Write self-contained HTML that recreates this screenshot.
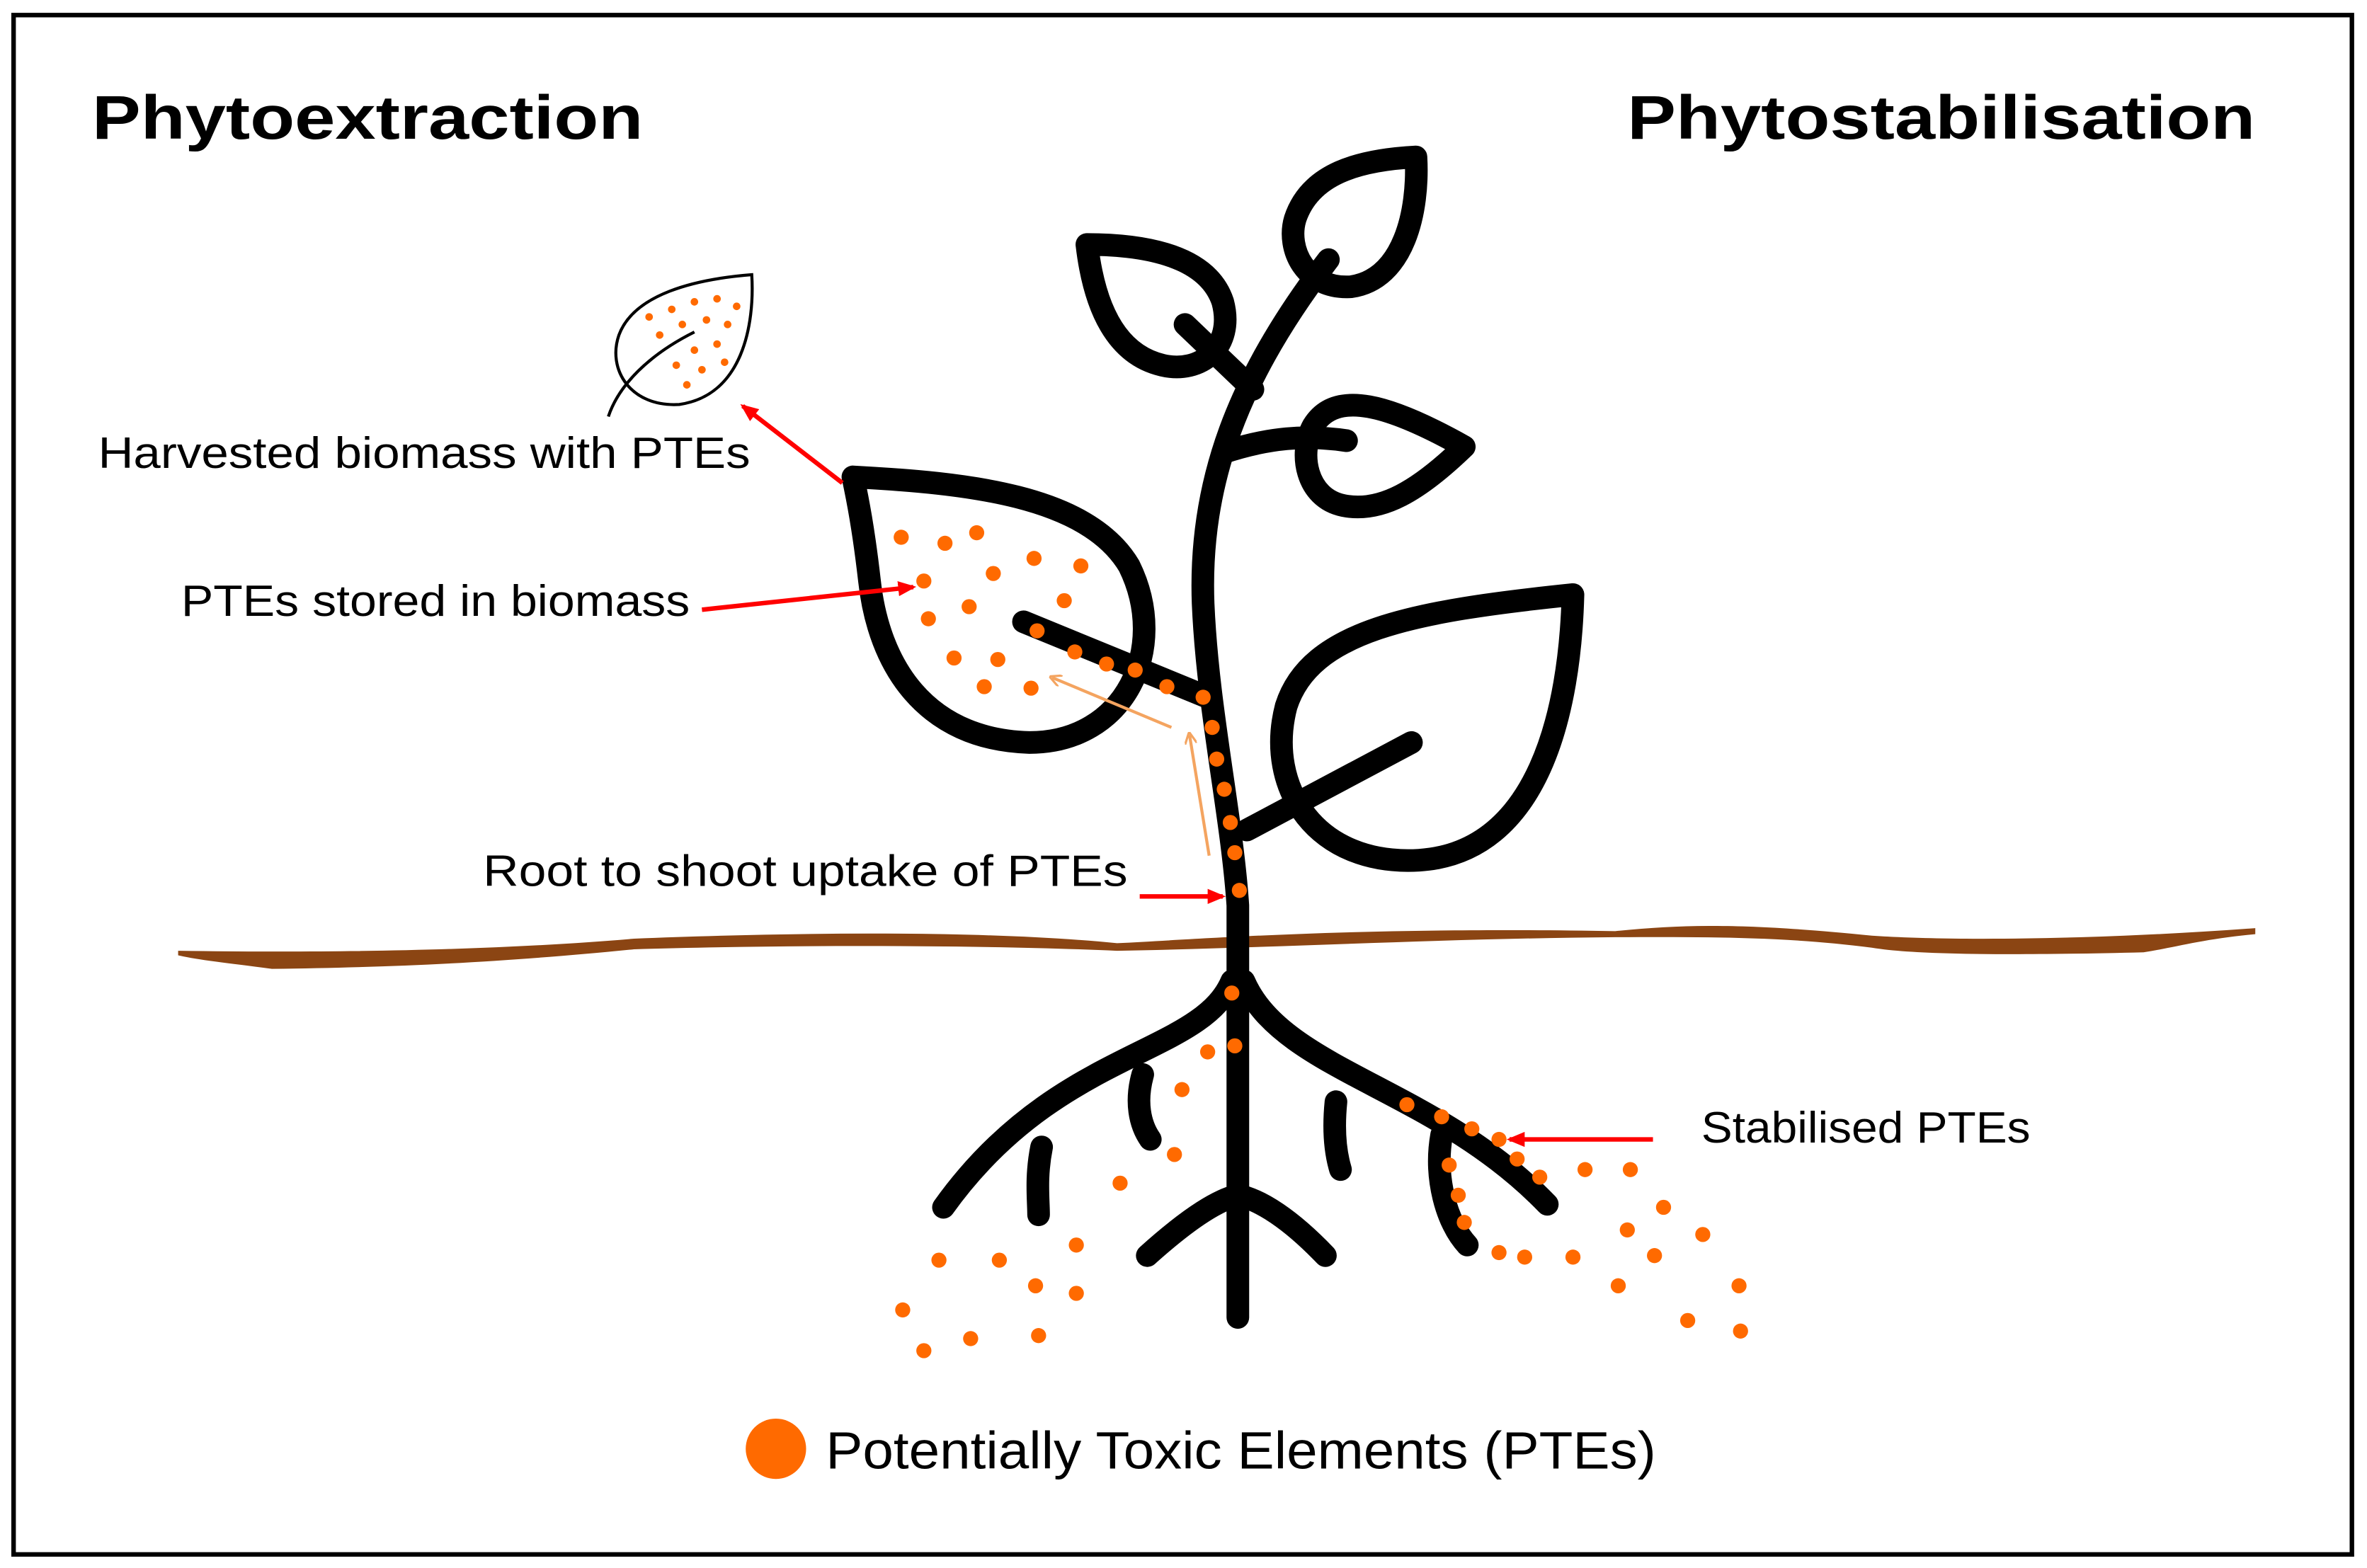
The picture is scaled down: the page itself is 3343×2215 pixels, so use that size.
<!DOCTYPE html>
<html><head><meta charset="utf-8"><style>
html,body{margin:0;padding:0;background:#fff;}
svg{display:block;}
</style></head><body>
<svg width="3343" height="2215" viewBox="0 0 1568 1039" preserveAspectRatio="none" xmlns="http://www.w3.org/2000/svg">
<defs>
<marker id="ar" markerWidth="12" markerHeight="10" refX="10" refY="5" orient="auto" markerUnits="userSpaceOnUse" viewBox="0 0 12 10"><path d="M0,0 L12,5 L0,10 z" fill="#ff0000"/></marker>
<marker id="ao" markerWidth="8" markerHeight="8" refX="6" refY="4" orient="auto" markerUnits="userSpaceOnUse" viewBox="0 0 8 8"><path d="M0,0 L8,4 L0,8" fill="none" stroke="#f4a460" stroke-width="1.5"/></marker>
</defs>
<rect x="0" y="0" width="1568" height="1039" fill="#fff"/>
<rect x="9" y="10" width="1549" height="1020" fill="none" stroke="#000" stroke-width="3"/>
<g font-family="Liberation Sans, sans-serif" font-weight="bold" font-size="41" fill="#000">
<text x="61" y="92" textLength="365" lengthAdjust="spacingAndGlyphs">Phytoextraction</text>
<text x="1078" y="92" textLength="416" lengthAdjust="spacingAndGlyphs">Phytostabilisation</text>
</g>
<!-- soil -->
<path d="M118,630 C250,632 350,628 420,622 C520,618 650,616 740,625 C800,622 900,614 1070,617 C1120,612 1160,612 1240,620 C1300,624 1400,622 1494,615 L1494,619 C1460,622 1440,628 1420,631 C1340,633 1270,633 1240,628 C1180,620 1120,621 1070,621 C950,622 850,628 740,630 C650,626 520,626 420,629 C330,638 260,641 180,642 C150,638 130,636 118,633 Z" fill="#8B4513"/>
<g fill="none" stroke="#000" stroke-width="15" stroke-linecap="round" stroke-linejoin="round">
<path d="M820,873 L820,600 C816,540 800,470 797,400 C794,320 820,250 880,172"/>
<path d="M800,462 L678,412"/>
<path d="M826,550 L935,492"/>
<path d="M810,300 C840,290 865,288 892,292"/>
<path d="M830,258 L785,215"/>
<path d="M565,316 C640,320 720,328 748,375 C775,430 745,492 682,492 C612,490 582,440 576,385 C572,350 568,330 565,316 Z"/>
<path d="M1042,394 C1040,470 1020,565 940,570 C872,574 838,522 852,468 C868,418 935,405 1042,394 Z"/>
<path d="M970,296 C940,325 915,340 890,335 C865,330 860,300 870,282 C885,258 920,268 970,296 Z"/>
<path d="M938,104 C940,140 930,185 895,190 C865,192 852,165 858,145 C868,115 900,106 938,104 Z"/>
<path d="M720,162 C760,162 800,170 810,200 C818,230 795,248 770,242 C740,235 725,205 720,162 Z"/>
<path d="M816,650 C795,700 700,695 625,800"/>
<path d="M690,760 C686,780 688,795 688,805"/>
<path d="M757,712 C752,730 755,745 762,755"/>
<path d="M760,832 C790,805 808,795 820,792 C835,795 855,808 878,832"/>
<path d="M824,650 C850,710 950,720 1025,798"/>
<path d="M885,730 C883,750 885,765 888,775"/>
<path d="M955,752 C950,780 958,810 972,825"/>
</g>
<g fill="none" stroke="#000" stroke-width="2">
<path d="M498,182 C500,215 492,262 450,268 C418,270 402,245 410,222 C420,195 460,185 498,182 Z"/>
<path d="M403,276 C410,255 430,235 460,220"/>
</g>
<g fill="#ff6a00">
<circle cx="430" cy="210" r="2.5"/><circle cx="445" cy="205" r="2.5"/><circle cx="460" cy="200" r="2.5"/><circle cx="475" cy="198" r="2.5"/><circle cx="488" cy="203" r="2.5"/><circle cx="437" cy="222" r="2.5"/><circle cx="452" cy="215" r="2.5"/><circle cx="468" cy="212" r="2.5"/><circle cx="482" cy="215" r="2.5"/><circle cx="475" cy="228" r="2.5"/><circle cx="460" cy="232" r="2.5"/><circle cx="448" cy="242" r="2.5"/><circle cx="465" cy="245" r="2.5"/><circle cx="480" cy="240" r="2.5"/><circle cx="455" cy="255" r="2.5"/>
</g>
<g fill="#ff6a00">
<circle cx="597" cy="356" r="5"/><circle cx="626" cy="360" r="5"/><circle cx="647" cy="353" r="5"/><circle cx="612" cy="385" r="5"/><circle cx="658" cy="380" r="5"/><circle cx="685" cy="370" r="5"/><circle cx="716" cy="375" r="5"/><circle cx="615" cy="410" r="5"/><circle cx="642" cy="402" r="5"/><circle cx="705" cy="398" r="5"/><circle cx="632" cy="436" r="5"/><circle cx="661" cy="437" r="5"/><circle cx="652" cy="455" r="5"/><circle cx="683" cy="456" r="5"/>
<circle cx="687" cy="418" r="5"/><circle cx="712" cy="432" r="5"/><circle cx="733" cy="440" r="5"/><circle cx="752" cy="444" r="5"/><circle cx="773" cy="455" r="5"/><circle cx="797" cy="462" r="5"/>
<circle cx="803" cy="482" r="5"/><circle cx="806" cy="503" r="5"/><circle cx="811" cy="523" r="5"/><circle cx="815" cy="545" r="5"/><circle cx="818" cy="565" r="5"/><circle cx="821" cy="590" r="5"/>
<circle cx="816" cy="658" r="5"/><circle cx="818" cy="693" r="5"/><circle cx="800" cy="697" r="5"/><circle cx="783" cy="722" r="5"/><circle cx="778" cy="765" r="5"/><circle cx="742" cy="784" r="5"/><circle cx="713" cy="825" r="5"/><circle cx="622" cy="835" r="5"/><circle cx="662" cy="835" r="5"/><circle cx="686" cy="852" r="5"/><circle cx="713" cy="857" r="5"/><circle cx="598" cy="868" r="5"/><circle cx="643" cy="887" r="5"/><circle cx="688" cy="885" r="5"/><circle cx="612" cy="895" r="5"/>
<circle cx="932" cy="732" r="5"/><circle cx="955" cy="740" r="5"/><circle cx="975" cy="748" r="5"/><circle cx="993" cy="755" r="5"/><circle cx="1005" cy="768" r="5"/><circle cx="1020" cy="780" r="5"/><circle cx="960" cy="772" r="5"/><circle cx="966" cy="792" r="5"/><circle cx="970" cy="810" r="5"/><circle cx="1050" cy="775" r="5"/><circle cx="1080" cy="775" r="5"/><circle cx="1102" cy="800" r="5"/><circle cx="1078" cy="815" r="5"/><circle cx="1128" cy="818" r="5"/><circle cx="993" cy="830" r="5"/><circle cx="1010" cy="833" r="5"/><circle cx="1042" cy="833" r="5"/><circle cx="1096" cy="832" r="5"/><circle cx="1072" cy="852" r="5"/><circle cx="1152" cy="852" r="5"/><circle cx="1118" cy="875" r="5"/><circle cx="1153" cy="882" r="5"/>
</g>
<g stroke="#ff0000" stroke-width="3" fill="none">
<line x1="558" y1="320" x2="492" y2="269" marker-end="url(#ar)"/>
<line x1="465" y1="404" x2="605" y2="389" marker-end="url(#ar)"/>
<line x1="755" y1="594" x2="810" y2="594" marker-end="url(#ar)"/>
<line x1="1095" y1="755" x2="1000" y2="755" marker-end="url(#ar)"/>
</g>
<g stroke="#f4a460" stroke-width="2" fill="none">
<line x1="776" y1="482" x2="697" y2="449" marker-end="url(#ao)"/>
<line x1="801" y1="567" x2="788" y2="487" marker-end="url(#ao)"/>
</g>
<g font-family="Liberation Sans, sans-serif" font-size="29" fill="#000">
<text x="65" y="310" textLength="432" lengthAdjust="spacingAndGlyphs">Harvested biomass with PTEs</text>
<text x="120" y="408" textLength="337" lengthAdjust="spacingAndGlyphs">PTEs stored in biomass</text>
<text x="320" y="587" textLength="427" lengthAdjust="spacingAndGlyphs">Root to shoot uptake of PTEs</text>
<text x="1127" y="757" textLength="218" lengthAdjust="spacingAndGlyphs">Stabilised PTEs</text>
</g>
<circle cx="514" cy="960" r="20" fill="#ff6a00"/>
<text x="547" y="973" font-family="Liberation Sans, sans-serif" font-size="35" fill="#000" textLength="550" lengthAdjust="spacingAndGlyphs">Potentially Toxic Elements (PTEs)</text>
</svg>
</body></html>
